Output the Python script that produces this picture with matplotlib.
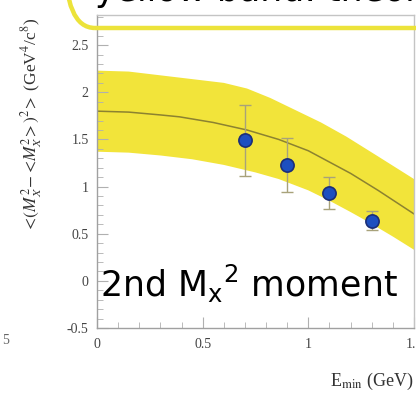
import matplotlib
matplotlib.use("Agg")
import matplotlib.pyplot as plt
from matplotlib.patches import FancyBboxPatch
from matplotlib.ticker import MultipleLocator

# ---- data ----
e_min = [0.7, 0.9, 1.1, 1.3]
moment2 = [1.49, 1.23, 0.93, 0.64]
err = [0.38, 0.29, 0.17, 0.10]

band_hi_x = [0.0, 0.15, 0.3, 0.45, 0.6, 0.71, 0.82, 0.94, 1.06, 1.18, 1.33, 1.5]
band_hi = [2.23, 2.22, 2.18, 2.14, 2.10, 2.04, 1.94, 1.81, 1.68, 1.53, 1.32, 1.08]
band_lo_x = [0.0, 0.15, 0.3, 0.45, 0.6, 0.75, 0.86, 1.0, 1.1, 1.2, 1.28, 1.4, 1.5]
band_lo = [1.37, 1.36, 1.33, 1.29, 1.23, 1.15, 1.08, 0.96, 0.85, 0.73, 0.63, 0.47, 0.33]
theory_x = [0.0, 0.15, 0.3, 0.39, 0.55, 0.71, 0.86, 1.0, 1.1, 1.2, 1.33, 1.5]
theory_y = [1.80, 1.79, 1.76, 1.74, 1.68, 1.60, 1.50, 1.38, 1.26, 1.14, 0.96, 0.71]

ytick_vals = [-0.5, 0, 0.5, 1, 1.5, 2, 2.5]
ytick_labels = ["-0.5", "0", "0.5", "1", "1.5", "2", "2.5"]
xtick_vals = [0, 0.5, 1, 1.5]
xtick_labels = ["0", "0.5", "1", "1.5"]

YELLOW = "#f2e43a"

fig = plt.figure(figsize=(4.16, 3.95), dpi=100)
ax = fig.add_axes([97/416, 67/395, 317/416, 313/395])

# band polygon built from the read edge points
poly_x = band_hi_x + band_lo_x[::-1]
poly_y = band_hi + band_lo[::-1]
ax.fill(poly_x, poly_y, color=YELLOW, lw=0, zorder=1)
ax.plot(theory_x, theory_y, color="#8c8230", lw=1.1, zorder=2)
ax.errorbar(e_min, moment2, yerr=err, fmt="none", ecolor="#a8a27a",
            elinewidth=1.0, capsize=4, capthick=1.0, zorder=3)
ax.plot(e_min, moment2, "o", ms=9.5, mfc="#1d4fc0", mec="#1c2f78", mew=1.2, zorder=4)

ax.set_xlim(0, 1.5)
ax.set_ylim(-0.5, 2.82)
ax.set_yticks(ytick_vals)
ax.set_yticklabels(ytick_labels)
ax.set_xticks(xtick_vals)
ax.set_xticklabels(xtick_labels)
ax.yaxis.set_minor_locator(MultipleLocator(0.1))
ax.xaxis.set_minor_locator(MultipleLocator(0.1))
for lab in ax.get_xticklabels() + ax.get_yticklabels():
    lab.set_fontfamily("Liberation Serif")
    lab.set_fontsize(10)
    lab.set_color("#444444")
ax.tick_params(which="both", direction="in", color="#b0b0b0", top=False, right=False)
ax.tick_params(which="major", length=8, width=0.8)
ax.tick_params(which="minor", length=4, width=0.6)
ax.tick_params(axis="y", pad=6)
ax.tick_params(axis="x", pad=7)
for s in ax.spines.values():
    s.set_color("#c4c4c4")
    s.set_linewidth(1.0)
ax.spines["left"].set_color("#a0a0a0")
ax.spines["bottom"].set_color("#a0a0a0")

# axis labels
fig.text(32/416, 1 - 125/395,
         r"$<\!(M_X^2\!-\!<\!M_X^2\!>)^2\!>$ (GeV$^4$/c$^8$)",
         rotation=90, ha="center", va="center", fontsize=12.5,
         family="Liberation Serif", math_fontfamily="stix", color="#333333")
fig.text(413/416, 1 - 381/395, r"E$_{\rm min}$ (GeV)", ha="right", va="center",
         fontsize=13, family="Liberation Serif", math_fontfamily="stix", color="#333333")

# stray tick label of neighbouring plot
fig.text(2/416, 1 - 341/395, "5", ha="left", va="center", fontsize=10,
         family="Liberation Serif", color="#666666")

# big annotation
ax.text(0.015, -0.03, r"2nd M$_\mathrm{x}{}^2$ moment", fontsize=25, color="black",
        family="DejaVu Sans", math_fontfamily="dejavusans", ha="left", va="center",
        transform=ax.transData, zorder=6)

# cut-off slide caption and its rounded yellow box
fig.text(95/416, 1 - 1/395, "yellow band: theory", fontsize=25, color="black",
         family="DejaVu Sans", ha="left", va="baseline")
box = FancyBboxPatch((0.65, (395 - 28)/100), 4.5, 1.0,
                     boxstyle="round,pad=0,rounding_size=0.3",
                     transform=fig.dpi_scale_trans, fill=False,
                     edgecolor="#ece33a", lw=3.2, zorder=10)
fig.patches.append(box)
box.set_figure(fig)

fig.savefig("out.png", dpi=100)
